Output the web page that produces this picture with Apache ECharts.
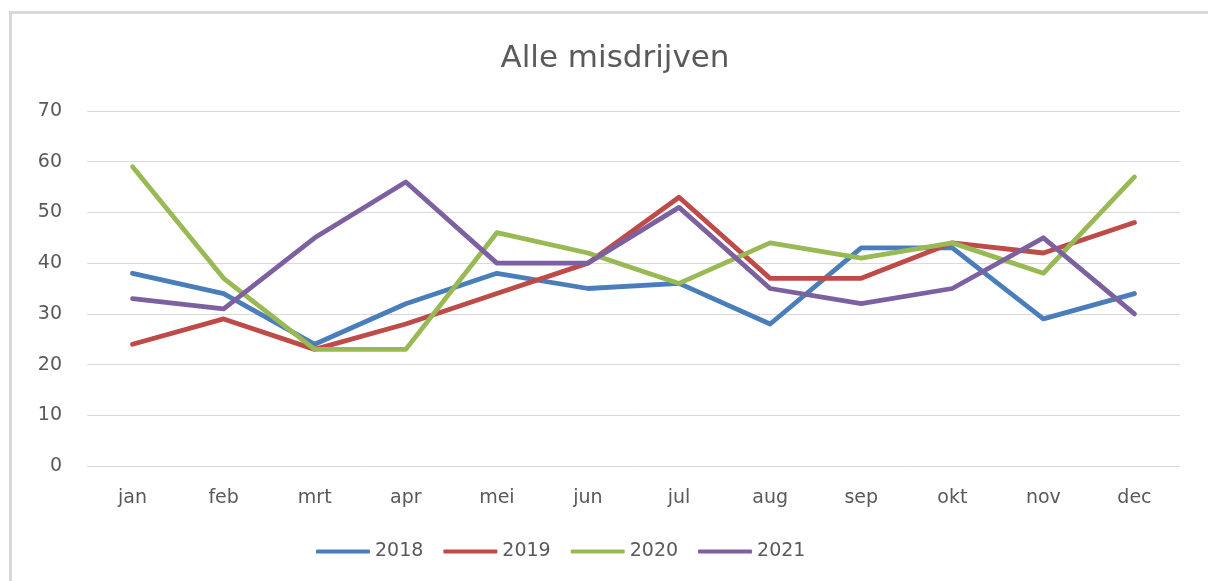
<!DOCTYPE html>
<html><head><meta charset="utf-8">
<script src="https://cdn.jsdelivr.net/npm/echarts@6/dist/echarts.min.js"></script>
<style>html,body{margin:0;padding:0;background:#fff}#c{width:1208px;height:581px}</style>
</head><body><div id="c"></div>
<script>
const categories = ['jan','feb','mrt','apr','mei','jun','jul','aug','sep','okt','nov','dec'];
const s2018 = [38,34,24,32,38,35,36,28,43,43,29,34];
const s2019 = [24,29,23,28,34,40,53,37,37,44,42,48];
const s2020 = [59,37,23,23,46,42,36,44,41,44,38,57];
const s2021 = [33,31,45,56,40,40,51,35,32,35,45,30];
const yTicks = [0,10,20,30,40,50,60,70];
const seriesNames = ['2018','2019','2020','2021'];
const colors = ['#4a7ebb','#be4b48','#98b954','#7d60a0'];

const chart = echarts.init(document.getElementById('c'));
const data = [s2018, s2019, s2020, s2021];
const font = 'DejaVu Sans';
chart.setOption({
  animation: false,
  color: colors,
  title: {
    text: 'Alle misdrijven', left: 610, textAlign: 'center', top: 38,
    textStyle: {fontFamily: font, fontWeight: 'normal', fontSize: 31, color: '#5a5a5a'}
  },
  legend: {
    bottom: 15, left: 311, itemWidth: 54, itemHeight: 4, itemGap: 20,
    icon: 'roundRect',
    textStyle: {fontFamily: font, fontSize: 19, color: '#595959'},
    data: seriesNames
  },
  graphic: [
    {type: 'line', shape: {x1: 10.5, y1: 12, x2: 10.5, y2: 581}, style: {stroke: '#d9d9d9', lineWidth: 3}},
    {type: 'line', shape: {x1: 9, y1: 12.5, x2: 1208, y2: 12.5}, style: {stroke: '#d9d9d9', lineWidth: 3}}
  ],
  grid: {left: 87, right: 28, top: 111, bottom: 115},
  xAxis: {
    type: 'category', data: categories, boundaryGap: true,
    axisLine: {show: false}, axisTick: {show: false},
    axisLabel: {fontFamily: font, fontSize: 19, color: '#595959', margin: 23}
  },
  yAxis: {
    type: 'value', min: yTicks[0], max: yTicks[yTicks.length-1], interval: 10,
    axisLine: {show: false}, axisTick: {show: false},
    axisLabel: {fontFamily: font, fontSize: 19, color: '#595959', margin: 25},
    splitLine: {lineStyle: {color: '#d9d9d9', width: 1}}
  },
  series: data.map((d, i) => ({
    name: seriesNames[i], type: 'line', data: d, symbol: 'none',
    lineStyle: {width: 4.8, color: colors[i], join: 'round', cap: 'round'}
  }))
});
</script></body></html>
